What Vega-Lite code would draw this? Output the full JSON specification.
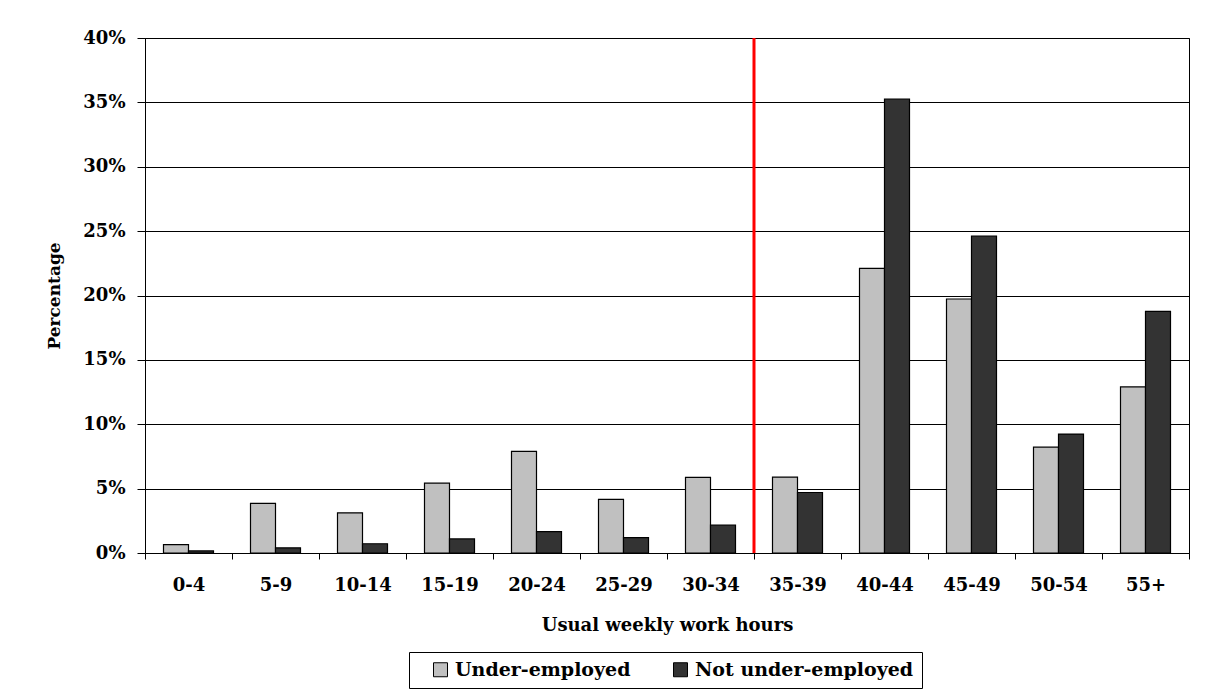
{
  "$schema": "https://vega.github.io/schema/vega-lite/v6.json",
  "width": 1044,
  "height": 515,
  "autosize": {"type": "none"},
  "padding": {"left": 145, "top": 38, "right": 24, "bottom": 142},
  "background": "white",
  "config": {
    "view": {"stroke": "black", "strokeWidth": 1},
    "font": "DejaVu Serif",
    "axis": {
      "labelFont": "DejaVu Serif",
      "labelFontWeight": "bold",
      "labelColor": "black",
      "titleFont": "DejaVu Serif",
      "titleFontWeight": "bold",
      "titleColor": "black",
      "domainColor": "black",
      "tickColor": "black",
      "gridColor": "black",
      "gridOpacity": 1,
      "domainWidth": 1,
      "tickWidth": 1
    },
    "legend": {
      "labelFont": "DejaVu Serif",
      "labelFontWeight": "bold",
      "labelColor": "black"
    }
  },
  "datasets": {
    "bars": [
      {"hours": "0-4", "series": "Under-employed", "pct": 0.65},
      {"hours": "0-4", "series": "Not under-employed", "pct": 0.16},
      {"hours": "5-9", "series": "Under-employed", "pct": 3.85},
      {"hours": "5-9", "series": "Not under-employed", "pct": 0.4},
      {"hours": "10-14", "series": "Under-employed", "pct": 3.12},
      {"hours": "10-14", "series": "Not under-employed", "pct": 0.72},
      {"hours": "15-19", "series": "Under-employed", "pct": 5.42},
      {"hours": "15-19", "series": "Not under-employed", "pct": 1.09},
      {"hours": "20-24", "series": "Under-employed", "pct": 7.9},
      {"hours": "20-24", "series": "Not under-employed", "pct": 1.66},
      {"hours": "25-29", "series": "Under-employed", "pct": 4.17},
      {"hours": "25-29", "series": "Not under-employed", "pct": 1.2},
      {"hours": "30-34", "series": "Under-employed", "pct": 5.87},
      {"hours": "30-34", "series": "Not under-employed", "pct": 2.16},
      {"hours": "35-39", "series": "Under-employed", "pct": 5.9},
      {"hours": "35-39", "series": "Not under-employed", "pct": 4.7},
      {"hours": "40-44", "series": "Under-employed", "pct": 22.1},
      {"hours": "40-44", "series": "Not under-employed", "pct": 35.25},
      {"hours": "45-49", "series": "Under-employed", "pct": 19.73},
      {"hours": "45-49", "series": "Not under-employed", "pct": 24.62},
      {"hours": "50-54", "series": "Under-employed", "pct": 8.22},
      {"hours": "50-54", "series": "Not under-employed", "pct": 9.24},
      {"hours": "55+", "series": "Under-employed", "pct": 12.9},
      {"hours": "55+", "series": "Not under-employed", "pct": 18.77}
    ],
    "divider": [{"hours": "35-39"}]
  },
  "layer": [
    {
      "data": {"name": "bars"},
      "mark": {"type": "bar", "stroke": "black", "strokeWidth": 1.2},
      "encoding": {
        "x": {
          "field": "hours",
          "type": "nominal",
          "sort": null,
          "scale": {
            "domain": ["0-4", "5-9", "10-14", "15-19", "20-24", "25-29", "30-34", "35-39", "40-44", "45-49", "50-54", "55+"],
            "paddingInner": 0,
            "paddingOuter": 0
          },
          "axis": {
            "title": "Usual weekly work hours",
            "titleFontSize": 18,
            "titlePadding": 22,
            "labelFontSize": 18,
            "labelAngle": 0,
            "labelPadding": 17,
            "tickSize": 6,
            "tickBand": "extent",
            "grid": false
          }
        },
        "xOffset": {
          "field": "series",
          "type": "nominal",
          "scale": {
            "domain": ["Under-employed", "Not under-employed"],
            "paddingOuter": 0.74,
            "paddingInner": 0
          }
        },
        "y": {
          "field": "pct",
          "type": "quantitative",
          "scale": {"domain": [0, 40], "nice": false},
          "axis": {
            "title": "Percentage",
            "titleFontSize": 17,
            "titlePadding": 19,
            "labelFontSize": 18,
            "labelPadding": 12,
            "tickSize": 8,
            "values": [0, 5, 10, 15, 20, 25, 30, 35, 40],
            "labelExpr": "datum.value + '%'",
            "grid": true
          }
        },
        "color": {
          "field": "series",
          "type": "nominal",
          "scale": {
            "domain": ["Under-employed", "Not under-employed"],
            "range": ["#C0C0C0", "#333333"]
          },
          "legend": {
            "title": null,
            "orient": "none",
            "legendX": 264,
            "legendY": 614,
            "direction": "horizontal",
            "strokeColor": "black",
            "fillColor": "white",
            "padding": 8,
            "symbolType": "square",
            "symbolSize": 196,
            "symbolStrokeColor": "black",
            "symbolStrokeWidth": 1,
            "symbolOpacity": 1,
            "symbolOffset": 14,
            "labelFontSize": 19,
            "labelOffset": 5,
            "labelLimit": 400,
            "columnPadding": 26
          }
        }
      }
    },
    {
      "data": {"name": "divider"},
      "mark": {"type": "rule", "color": "#FF0000", "strokeWidth": 3},
      "encoding": {
        "x": {"field": "hours", "type": "nominal", "bandPosition": 0}
      }
    }
  ]
}
